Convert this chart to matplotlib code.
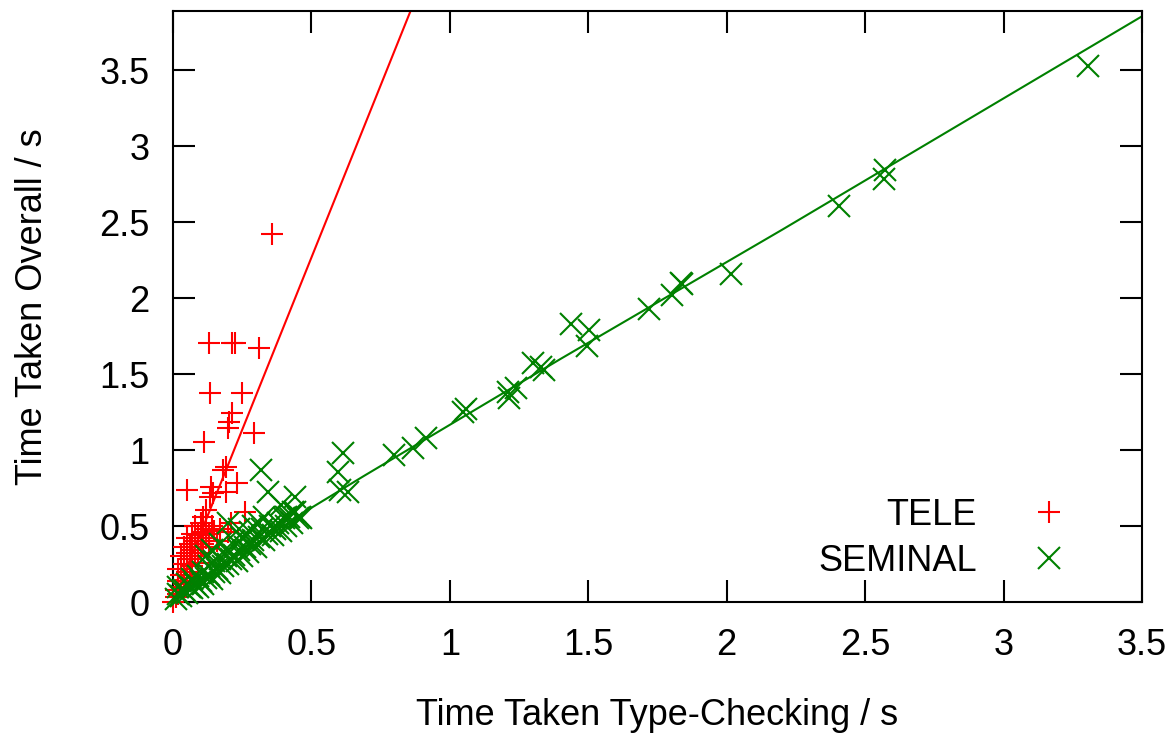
import matplotlib
matplotlib.use("Agg")
import matplotlib.pyplot as plt

plt.rcParams['font.family'] = ['Liberation Sans', 'DejaVu Sans']

# TELE: type-checking time vs overall time (s)
tele_x = [0.00, 0.01, 0.01, 0.02, 0.02, 0.02, 0.03, 0.03, 0.03, 0.04, 0.04, 0.04,
          0.05, 0.05, 0.05, 0.06, 0.06, 0.06, 0.07, 0.07, 0.07, 0.08, 0.08, 0.08,
          0.09, 0.09, 0.09, 0.10, 0.10, 0.10, 0.11, 0.11, 0.11, 0.12, 0.12, 0.12,
          0.13, 0.13, 0.14, 0.15, 0.16, 0.17, 0.21, 0.20, 0.26, 0.049, 0.139, 0.145,
          0.23, 0.193, 0.133, 0.18, 0.193, 0.113, 0.199, 0.202, 0.212, 0.293, 0.133,
          0.249, 0.130, 0.212, 0.225, 0.312, 0.358]
tele_y = [0.00, 0.03, 0.08, 0.05, 0.14, 0.22, 0.10, 0.18, 0.30, 0.12, 0.25, 0.36,
          0.20, 0.32, 0.42, 0.16, 0.28, 0.38, 0.24, 0.34, 0.45, 0.30, 0.40, 0.50,
          0.26, 0.36, 0.44, 0.32, 0.40, 0.52, 0.38, 0.46, 0.56, 0.42, 0.48, 0.605,
          0.36, 0.45, 0.50, 0.47, 0.40, 0.48, 0.52, 0.46, 0.594, 0.737, 0.759, 0.715,
          0.781, 0.726, 0.693, 0.868, 0.89, 1.055, 1.143, 1.186, 1.241, 1.110, 1.373,
          1.373, 1.706, 1.702, 1.702, 1.669, 2.419]

# SEMINAL
seminal_x = [0.01, 0.02, 0.02, 0.03, 0.04, 0.05, 0.05, 0.06, 0.07, 0.07, 0.08, 0.09,
             0.09, 0.10, 0.11, 0.11, 0.12, 0.13, 0.13, 0.14, 0.15, 0.15, 0.16, 0.17,
             0.17, 0.18, 0.19, 0.20, 0.20, 0.21, 0.22, 0.22, 0.23, 0.24, 0.25, 0.25,
             0.26, 0.27, 0.28, 0.28, 0.29, 0.30, 0.31, 0.32, 0.33, 0.34, 0.35, 0.36,
             0.37, 0.38, 0.39, 0.40, 0.41, 0.42, 0.43, 0.44, 0.45, 0.46,
             0.317, 0.344, 0.44, 0.392, 0.433, 0.41, 0.464, 0.33, 0.29, 0.31, 0.12,
             0.17, 0.14, 0.20, 0.24,
             0.614, 0.596, 0.602, 0.632, 0.80, 0.866, 0.915, 1.047, 1.06, 1.209,
             1.215, 1.239, 1.299, 1.329, 1.341, 1.437, 1.503, 1.495, 1.72, 1.801,
             1.834, 1.84, 2.014, 2.404, 2.573, 2.567, 3.306]
seminal_y = [0.02, 0.05, 0.10, 0.04, 0.08, 0.06, 0.12, 0.10, 0.09, 0.15, 0.12, 0.10,
             0.17, 0.14, 0.12, 0.20, 0.16, 0.18, 0.24, 0.15, 0.20, 0.27, 0.22, 0.19,
             0.28, 0.24, 0.30, 0.25, 0.34, 0.28, 0.31, 0.40, 0.27, 0.34, 0.30, 0.42,
             0.36, 0.33, 0.38, 0.46, 0.41, 0.36, 0.43, 0.48, 0.41, 0.45, 0.50, 0.44,
             0.48, 0.52, 0.47, 0.55, 0.50, 0.56, 0.52, 0.59, 0.55, 0.56,
             0.868, 0.726, 0.693, 0.638, 0.594, 0.56, 0.55, 0.56, 0.50, 0.52, 0.30,
             0.38, 0.34, 0.52, 0.48,
             0.978, 0.857, 0.737, 0.726, 0.967, 1.011, 1.077, 1.252, 1.27, 1.384,
             1.34, 1.406, 1.57, 1.548, 1.526, 1.829, 1.789, 1.687, 1.926, 2.024,
             2.097, 2.09, 2.158, 2.607, 2.842, 2.787, 3.526]

# fitted trend lines
tele_fit_x = [0.0, 0.9]
tele_fit_y = [0.0, 4.08]
seminal_fit_x = [0.0, 0.5, 0.69, 1.4, 2.2, 3.5]
seminal_fit_y = [0.03, 0.62, 0.83, 1.60, 2.45, 3.855]

red = '#ff0000'
green = '#008000'
fs = 26

fig = plt.figure(figsize=(11.71, 7.33), dpi=100)
ax = fig.add_axes([0.1477, 0.1787, 0.8275, 0.8063])

ax.plot(tele_x, tele_y, linestyle='none', marker='+', markersize=16,
        markeredgewidth=1.5, color=red, label='TELE', clip_on=False, zorder=3)
ax.plot(tele_fit_x, tele_fit_y, color=red, linewidth=1.5, zorder=2)
ax.plot(seminal_x, seminal_y, linestyle='none', marker='x', markersize=16,
        markeredgewidth=1.5, color=green, label='SEMINAL', clip_on=False, zorder=4)
ax.plot(seminal_fit_x, seminal_fit_y, color=green, linewidth=1.5, zorder=2)

ax.set_xlim(0, 3.5)
ax.set_ylim(0, 3.89)
ax.set_xticks([0, 0.5, 1, 1.5, 2, 2.5, 3, 3.5])
ax.set_xticklabels(['0', '0.5', '1', '1.5', '2', '2.5', '3', '3.5'])
ax.set_yticks([0, 0.5, 1, 1.5, 2, 2.5, 3, 3.5])
ax.set_yticklabels(['0', '0.5', '1', '1.5', '2', '2.5', '3', '3.5'])

ax.tick_params(direction='in', length=16, width=1.5, labelsize=fs,
               top=True, right=True)
ax.tick_params(axis='x', pad=19)
ax.tick_params(axis='y', pad=17)
for s in ax.spines.values():
    s.set_linewidth(1.5)

ax.set_xlabel('Time Taken Type-Checking / s', fontsize=fs, labelpad=25)
ax.set_ylabel('Time Taken Overall / s', fontsize=fs, labelpad=35)

ax.legend(loc='center right', bbox_to_anchor=(0.9265, 0.2653),
          bbox_transform=fig.transFigure, frameon=False, markerfirst=False,
          fontsize=fs, handlelength=2.0, handletextpad=1.0, labelspacing=0.3,
          borderpad=0, borderaxespad=0)

fig.savefig('out.png', dpi=100)
